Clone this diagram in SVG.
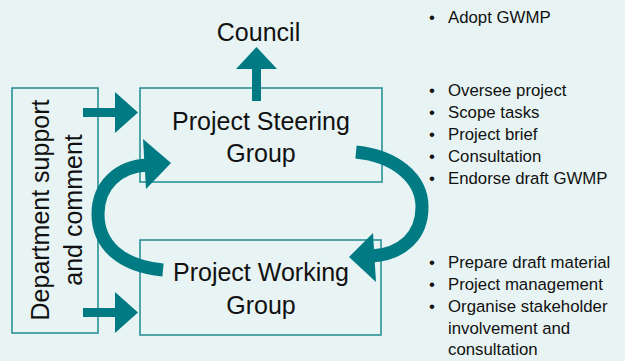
<svg xmlns="http://www.w3.org/2000/svg" width="625" height="361" viewBox="0 0 625 361">
<style>
.box{fill:none;stroke:#2a9297;stroke-width:1.6}
.big{font-family:"Liberation Sans",Arial,sans-serif;font-size:25px;fill:#111;text-anchor:middle}
.sm{font-family:"Liberation Sans",Arial,sans-serif;font-size:16.8px;fill:#111}
.arrow{fill:#007b84}
.arc{fill:none;stroke:#007b84;stroke-width:13}
</style>
<rect width="625" height="361" fill="#e8f4f4"/>
<g id="council"><text class="big" x="258.5" y="41">Council</text></g>
<g id="department">
<rect class="box" x="12" y="88" width="86" height="245"/>
<text class="big" transform="translate(49,210) rotate(-90)">Department support</text>
<text class="big" transform="translate(82,210) rotate(-90)">and comment</text>
</g>
<g id="steering">
<rect class="box" x="140" y="88" width="242" height="94"/>
<text class="big" x="261" y="130">Project Steering</text>
<text class="big" x="261" y="162">Group</text>
</g>
<g id="working">
<rect class="box" x="140" y="240" width="241" height="95"/>
<text class="big" x="261" y="281">Project Working</text>
<text class="big" x="261" y="314">Group</text>
</g>
<g id="connectors">
<polygon class="arrow" points="252,101 252,69 236,69 256.5,47 277,69 261,69 261,101"/>
<polygon class="arrow" points="83,108 115,108 115,92 138,112.5 115,133 115,117 83,117"/>
<polygon class="arrow" points="83,308 115,308 115,292 138,312.5 115,333 115,317 83,317"/>
<path class="arc" d="M163,270 C120,266 98,244 98,214 C98,186 118,166 148,165"/>
<polygon class="arrow" points="143,139 171,163 146,189"/>
<path class="arc" d="M356,152 C395,156 422,178 422,207 C422,236 402,254 372,256"/>
<polygon class="arrow" points="373,233 349,257 376,282"/>
</g>
<g id="notes">
<text class="sm" x="429" y="23">•</text><text class="sm" x="448" y="23">Adopt GWMP</text>
<text class="sm" x="429" y="96">•</text><text class="sm" x="448" y="96">Oversee project</text>
<text class="sm" x="429" y="118">•</text><text class="sm" x="448" y="118">Scope tasks</text>
<text class="sm" x="429" y="140">•</text><text class="sm" x="448" y="140">Project brief</text>
<text class="sm" x="429" y="162">•</text><text class="sm" x="448" y="162">Consultation</text>
<text class="sm" x="429" y="184">•</text><text class="sm" x="448" y="184">Endorse draft GWMP</text>
<text class="sm" x="429" y="268">•</text><text class="sm" x="448" y="268">Prepare draft material</text>
<text class="sm" x="429" y="290">•</text><text class="sm" x="448" y="290">Project management</text>
<text class="sm" x="429" y="312">•</text><text class="sm" x="448" y="312">Organise stakeholder</text>
<text class="sm" x="448" y="334">involvement and</text>
<text class="sm" x="448" y="355">consultation</text>
</g>
</svg>
